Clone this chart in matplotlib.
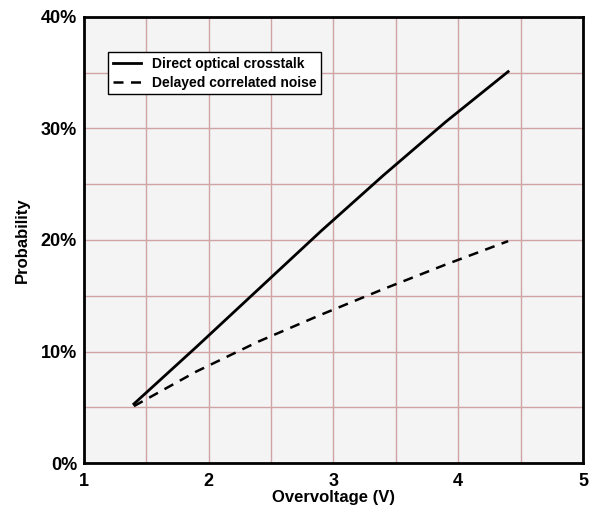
import numpy as np
import matplotlib.pyplot as plt
from matplotlib.ticker import FuncFormatter, MultipleLocator

plt.rcParams['font.family'] = ['Liberation Sans', 'DejaVu Sans']

# Data
overvoltage = [1.4, 1.9, 2.4, 2.9, 3.4, 3.9, 4.4]
direct_crosstalk = [5.3, 10.4, 15.6, 20.8, 25.8, 30.6, 35.1]
delayed_noise = [5.1, 8.2, 10.9, 13.3, 15.6, 17.8, 19.9]

fig = plt.figure(figsize=(5.89, 5.12), dpi=100)
ax = fig.add_axes([0.1426, 0.0957, 0.8472, 0.8711])
ax.set_facecolor('#f4f4f4')

ax.plot(overvoltage, direct_crosstalk, color='black', lw=2, label='Direct optical crosstalk')
ax.plot(overvoltage, delayed_noise, color='black', lw=1.8, ls=(0, (4, 3)), label='Delayed correlated noise')

ax.set_xlim(1, 5)
ax.set_ylim(0, 40)
ax.xaxis.set_major_locator(MultipleLocator(1))
ax.xaxis.set_minor_locator(MultipleLocator(0.5))
ax.yaxis.set_major_locator(MultipleLocator(10))
ax.yaxis.set_minor_locator(MultipleLocator(5))
ax.yaxis.set_major_formatter(FuncFormatter(lambda v, p: '%d%%' % v))
ax.grid(True, which='both', color='#d0a4a4', lw=1)
ax.set_axisbelow(True)
ax.tick_params(which='both', length=0, labelsize=13)
ax.tick_params(axis='x', pad=7)
ax.tick_params(axis='y', pad=5)
for lab in ax.get_xticklabels() + ax.get_yticklabels():
    lab.set_fontweight('bold')
for s in ax.spines.values():
    s.set_linewidth(2)

ax.set_xlabel('Overvoltage (V)', fontsize=12, fontweight='bold', labelpad=0)
ax.set_ylabel('Probability', fontsize=12, fontweight='bold', labelpad=8)

leg = ax.legend(loc='upper left', bbox_to_anchor=(0.048, 0.922), borderaxespad=0,
                fancybox=False, framealpha=1, edgecolor='black',
                prop={'size': 10, 'weight': 'bold'},
                handlelength=2, borderpad=0.35, labelspacing=0.35)
leg.get_frame().set_linewidth(1)

fig.savefig('out.png', dpi=100)
